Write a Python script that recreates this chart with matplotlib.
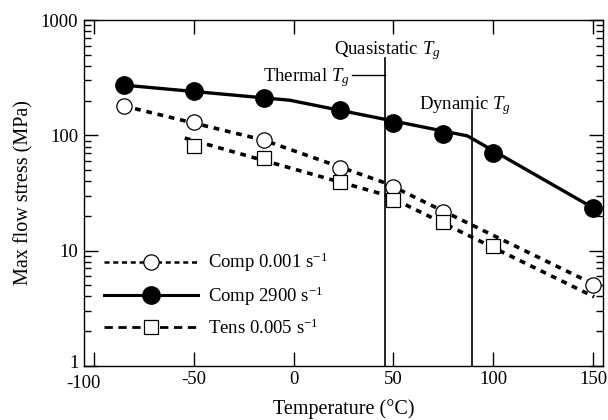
import numpy as np
import matplotlib
matplotlib.use("Agg")
import matplotlib.pyplot as plt
from matplotlib.lines import Line2D
from matplotlib.transforms import ScaledTranslation

plt.rcParams['font.family'] = ['Liberation Serif', 'DejaVu Serif']
plt.rcParams['mathtext.fontset'] = 'custom'
plt.rcParams['mathtext.it'] = 'Liberation Serif:italic'
plt.rcParams['mathtext.rm'] = 'Liberation Serif'

# measured points
temp_comp_slow = [-85, -50, -15, 23, 50, 75, 150]
stress_comp_slow = [180, 130, 91, 52, 35.7, 21.6, 5.04]

temp_comp_fast = [-85, -50, -15, 23, 50, 75, 100, 150]
stress_comp_fast = [273, 242, 211, 166, 128, 103, 70, 23.5]

temp_tens = [-50, -15, 23, 50, 75, 100]
stress_tens = [80.8, 63.6, 39.4, 27.5, 17.7, 11.0]

# fitted trend lines
fit_temp_comp_slow = [-85, -15, 46, 150]
fit_stress_comp_slow = [180, 91, 38.6, 5.14]

fit_temp_comp_fast = [-85, -2, 87, 150]
fit_stress_comp_fast = [273, 202, 99, 23.5]

fit_temp_tens = [-54.5, 46, 150.5]
fit_stress_tens = [94.8, 30.4, 3.97]

# glass transition markers
tg_quasistatic = 46
tg_dynamic = 89.5
tg_thermal_line = [29, 46]

fig = plt.figure(figsize=(6.08, 4.2), dpi=100)
ax = fig.add_axes([0.138, 0.129, 0.854, 0.823])

ax.plot(fit_temp_comp_slow, fit_stress_comp_slow, color='black', lw=2.6,
        dashes=(1.6, 1.6), zorder=2)
ax.plot(fit_temp_comp_fast, fit_stress_comp_fast, color='black', lw=2.4, zorder=2)
ax.plot(fit_temp_tens, fit_stress_tens, color='black', lw=2.6,
        dashes=(1.6, 1.6), zorder=2)

ax.plot(temp_comp_slow, stress_comp_slow, 'o', ms=11, mfc='white', mec='black',
        mew=0.9, zorder=3)
ax.plot(temp_comp_fast, stress_comp_fast, 'o', ms=12.5, mfc='black', mec='black',
        zorder=3)
ax.plot(temp_tens, stress_tens, 's', ms=10.5, mfc='white', mec='black',
        mew=0.9, zorder=4)

ax.plot([tg_quasistatic, tg_quasistatic], [1, 469], color='black', lw=1.2)
ax.plot([tg_dynamic, tg_dynamic], [1, 166], color='black', lw=1.2)
ax.plot(tg_thermal_line, [334, 334], color='black', lw=1.0)

ax.text(tg_quasistatic + 1, 540, 'Quasistatic $T_g$', fontsize=13.5,
        ha='center', va='center')
ax.text(28, 318, 'Thermal $T_g$', fontsize=13.5, ha='right', va='center')
ax.text(tg_dynamic - 3.5, 180, 'Dynamic $T_g$', fontsize=13.5, ha='center',
        va='center')

ax.set_yscale('log')
ax.set_xlim(-105, 155)
ax.set_ylim(1, 1000)
ax.set_xticks([-100, -50, 0, 50, 100, 150])
ax.set_xticklabels(['-100', '-50', '0', '50', '100', '150'])
ax.set_yticks([1, 10, 100, 1000])
ax.set_yticklabels(['1', '10', '100', '1000'])
ax.tick_params(which='major', direction='in', length=10, width=1.0,
               top=True, right=True, labelsize=13.5, pad=4)
ax.tick_params(which='minor', direction='in', length=5, width=1.0,
               right=True, top=False)
ax.tick_params(axis='x', which='minor', bottom=False, top=False)
for s in ax.spines.values():
    s.set_linewidth(1.0)

lbl = ax.get_xticklabels()[0]
lbl.set_transform(lbl.get_transform() + ScaledTranslation(-0.1, -0.04, fig.dpi_scale_trans))
lbl1 = ax.get_yticklabels()[0]
lbl1.set_transform(lbl1.get_transform() + ScaledTranslation(0, 0.04, fig.dpi_scale_trans))

ax.set_xlabel('Temperature (°C)', fontsize=14.5, labelpad=5)
ax.set_ylabel('Max flow stress (MPa)', fontsize=14.5, labelpad=5)

handles = [
    Line2D([], [], color='black', lw=1.8, dashes=(2, 1.5), marker='o', ms=11,
           mfc='white', mec='black', mew=0.9),
    Line2D([], [], color='black', lw=2.2, marker='o', ms=12.5, mfc='black',
           mec='black'),
    Line2D([], [], color='black', lw=2.0, dashes=(3, 2), marker='s', ms=10.5,
           mfc='white', mec='black', mew=0.9),
]
labels = ['Comp 0.001 s$^{-1}$', 'Comp 2900 s$^{-1}$', 'Tens 0.005 s$^{-1}$']
ax.legend(handles, labels, loc='lower left', bbox_to_anchor=(0.025, 0.06),
          frameon=False, fontsize=13.5, handlelength=5.0, handletextpad=0.5,
          labelspacing=0.55, numpoints=1, borderaxespad=0)

fig.savefig('out.png', dpi=100)
